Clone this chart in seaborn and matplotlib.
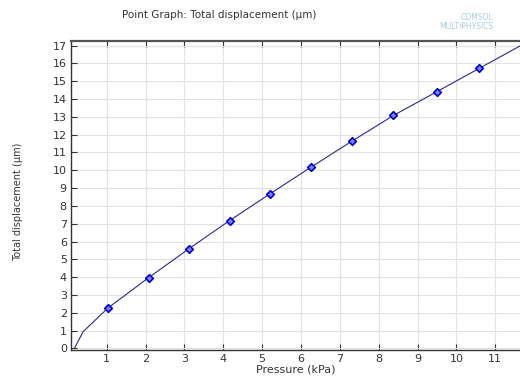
import matplotlib
matplotlib.use("Agg")
import matplotlib.pyplot as plt
import seaborn as sns
import pandas as pd

# Curve data (pressure kPa, displacement µm)
line_x = [0.17, 0.39, 1.03, 2.08, 3.12, 4.16, 5.21, 6.26, 7.32, 8.38, 9.50, 10.59, 11.70]
line_y = [0.00, 0.93, 2.26, 3.97, 5.60, 7.17, 8.69, 10.18, 11.65, 13.08, 14.42, 15.73, 17.06]
# Marker points
pt_x = [1.03, 2.08, 3.12, 4.16, 5.21, 6.26, 7.32, 8.38, 9.50, 10.59]
pt_y = [2.26, 3.97, 5.60, 7.17, 8.69, 10.18, 11.65, 13.08, 14.42, 15.73]
x_ticks = list(range(1, 12))
y_ticks = list(range(0, 18))

sns.set_style("whitegrid")
plt.rcParams['font.family'] = ['DejaVu Sans']

fig = plt.figure(figsize=(5.2, 3.76), dpi=100)
ax = fig.add_axes([71/520, 26/376, 1 - 71/520, (350 - 40.7)/376])

df_line = pd.DataFrame({"x": line_x, "y": line_y})
df_pts = pd.DataFrame({"x": pt_x, "y": pt_y})
sns.lineplot(data=df_line, x="x", y="y", ax=ax, color="#2a2a88", linewidth=0.8,
             sort=False, estimator=None)
sns.scatterplot(data=df_pts, x="x", y="y", ax=ax, marker="D", s=15,
                facecolor="#8080ff", edgecolor="#0000cc", linewidth=1.2, zorder=5)

ax.set_xlim(0.081, 11.636)
ax.set_ylim(-0.095, 17.28)
ax.set_xticks(x_ticks)
ax.set_yticks(y_ticks)
ax.tick_params(axis="both", labelsize=8, colors="#333333", direction="in", length=4,
               width=0.8, pad=3)
ax.tick_params(axis="x", top=True, bottom=True, labeltop=False)
ax.tick_params(axis="y", left=True, right=False)
ax.grid(True, color="#e2e2e2", linewidth=0.8)

for s in ["left", "bottom"]:
    ax.spines[s].set_color("#333333")
    ax.spines[s].set_linewidth(1.0)
ax.spines["top"].set_color("#555555")
ax.spines["top"].set_linewidth(1.6)
ax.spines["right"].set_visible(False)

ax.set_xlabel("Pressure (kPa)", fontsize=8, color="#333333", labelpad=0)
ax.set_ylabel("")
fig.text(18/520, 1 - 202/376, "Total displacement (µm)", rotation=90, fontsize=7,
         color="#333333", ha="center", va="center")
fig.text(122/520, 1 - 15/376, "Point Graph: Total displacement (µm)", fontsize=7.5,
         color="#333333", ha="left", va="center")
fig.text(493/520, 1 - 22/376, "COMSOL\nMULTIPHYSICS", fontsize=5.5, color="#a8cce0",
         ha="right", va="center", linespacing=1.0, multialignment="right")

fig.savefig("out.png", dpi=100)
